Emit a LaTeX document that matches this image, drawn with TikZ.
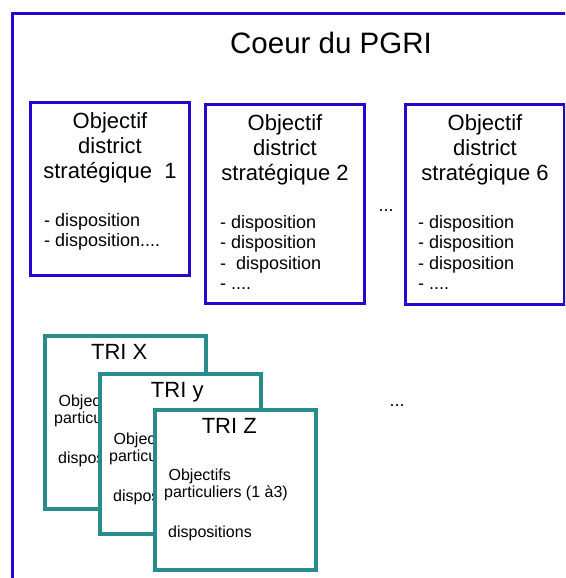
\documentclass[tikz,border=0pt]{standalone}
\usepackage{fontspec}
\setmainfont{Liberation Sans}
\usetikzlibrary{calc,positioning}
\definecolor{pgriblue}{RGB}{36,8,208}
\definecolor{triteal}{RGB}{40,140,140}
\tikzset{
    objbox/.style={
        draw=pgriblue,
        line width=3pt,
        fill=white,
        anchor=north west,
        minimum width=159pt,
        inner sep=0pt
    },
    tribox/.style={
        draw=triteal,
        line width=3.5pt,
        fill=white,
        anchor=north west,
        minimum width=161pt,
        minimum height=160pt,
        inner sep=0pt
    },
    objtitle/.style={anchor=north, align=center, inner sep=0pt, font=\fontsize{22}{25}\selectfont},
    displist/.style={anchor=north west, align=left, inner sep=0pt, font=\fontsize{18}{20.5}\selectfont},
    trititle/.style={anchor=base, inner sep=0pt, font=\fontsize{22}{26}\selectfont},
    tritext/.style={anchor=north west, align=left, inner sep=0pt, font=\fontsize{16}{17}\selectfont},
    dots/.style={anchor=base, inner sep=0pt, font=\fontsize{18}{20}\selectfont}
}

\begin{document}
\begin{tikzpicture}[x=1pt, y=-1pt]
    \useasboundingbox (0,0) rectangle (565,578);
    \clip (0,0) rectangle (565,578);
    % Frame - Coeur du PGRI
    \draw[pgriblue, line width=3pt] (12,14) rectangle (620,620);
    \node[anchor=base, inner sep=0pt, font=\fontsize{29.5}{32}\selectfont] (coeur) at (331,54) {Coeur du PGRI};

    % Objectif boxes
    \node[objbox, minimum height=173pt] (obj1) at (29,101) {};
    \node[objbox, minimum height=199pt] (obj2) at (204,103) {};
    \node[objbox, minimum height=200pt] (obj6) at (404,103) {};

    \node[objtitle] (t1) at ([yshift=-11pt]obj1.north) {Objectif\\district\\stratégique\ \ 1};
    \node[objtitle] (t2) at ([yshift=-11pt]obj2.north) {Objectif\\district\\stratégique 2};
    \node[objtitle] (t6) at ([yshift=-11pt]obj6.north) {Objectif\\district\\stratégique 6};

    \node[displist] (d1) at ([xshift=15pt, yshift=-112pt]obj1.north west) {- disposition\\- disposition....};
    \node[displist] (d2) at ([xshift=16pt, yshift=-112pt]obj2.north west) {- disposition\\- disposition\\-\ \ disposition\\- ....};
    \node[displist] (d6) at ([xshift=14pt, yshift=-112pt]obj6.north west) {- disposition\\- disposition\\- disposition\\- ....};

    \node[dots] (dots1) at (386,211) {...};

    % TRI boxes - stacked, each one hides the text of the one behind
    \node[tribox, minimum height=173pt] (trix) at (43,334) {};
    \node[trititle] (trixt) at ([xshift=-6pt, yshift=-25pt]trix.north) {TRI X};
    \node[tritext] (trixo) at ([xshift=11pt, yshift=-61pt]trix.north west) {\ Objec\\particu};
    \node[tritext] (trixd) at ([xshift=15pt, yshift=-118pt]trix.north west) {dispos};

    \node[tribox] (triy) at (98,372) {};
    \node[trititle] (triyt) at ([xshift=-3pt, yshift=-25pt]triy.north) {TRI y};
    \node[tritext] (triyo) at ([xshift=11pt, yshift=-61pt]triy.north west) {\ Objec\\particu};
    \node[tritext] (triyd) at ([xshift=15pt, yshift=-118pt]triy.north west) {dispos};

    \node[tribox] (triz) at (153,408) {};
    \node[trititle] (trizt) at ([xshift=-6pt, yshift=-25pt]triz.north) {TRI Z};
    \node[tritext] (trizo) at ([xshift=11pt, yshift=-61pt]triz.north west) {\ Objectifs\\particuliers (1 à3)};
    \node[tritext] (trizd) at ([xshift=15pt, yshift=-118pt]triz.north west) {dispositions};

    \node[dots] (dots2) at (397,406) {...};
\end{tikzpicture}
\end{document}
